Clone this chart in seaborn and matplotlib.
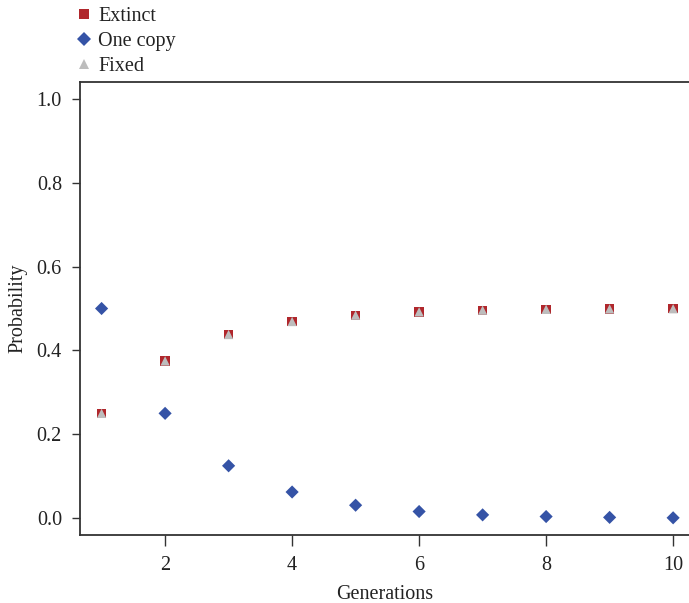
import matplotlib
matplotlib.use("Agg")
import matplotlib.pyplot as plt
import seaborn as sns
import pandas as pd

generations = [1, 2, 3, 4, 5, 6, 7, 8, 9, 10]
extinct = [0.25, 0.375, 0.438, 0.469, 0.484, 0.492, 0.496, 0.498, 0.499, 0.4995]
one_copy = [0.5, 0.25, 0.125, 0.0625, 0.031, 0.016, 0.008, 0.004, 0.002, 0.001]
fixed = [0.25, 0.375, 0.438, 0.469, 0.484, 0.492, 0.496, 0.498, 0.499, 0.4995]
series_names = ["Extinct", "One copy", "Fixed"]
y_ticks = [0.0, 0.2, 0.4, 0.6, 0.8, 1.0]
x_ticks = [2, 4, 6, 8, 10]

sns.set_style("white")
plt.rcParams['font.family'] = ['Liberation Serif', 'DejaVu Serif']

df = pd.DataFrame({
    "Generations": generations * 3,
    "Probability": extinct + one_copy + fixed,
    "Series": [series_names[0]] * 10 + [series_names[1]] * 10 + [series_names[2]] * 10,
})

colors = {"Extinct": "#B0272C", "One copy": "#3553A6", "Fixed": "#BDBDBD"}
markers = {"Extinct": "s", "One copy": "D", "Fixed": "^"}

fig = plt.figure(figsize=(6.89, 6.03), dpi=100)
ax = fig.add_axes([80/689, 1 - 535/603, 1 - 80/689, (535 - 82)/603])

sns.scatterplot(data=df, x="Generations", y="Probability", hue="Series", style="Series",
                palette=colors, markers=markers, s=45, edgecolor="none", linewidth=0,
                ax=ax, legend=True)

ax.set_xlim(0.66, 10.25)
ax.set_ylim(-0.04, 1.04)
ax.set_xticks(x_ticks)
ax.set_xticklabels([str(t) for t in x_ticks])
ax.set_yticks(y_ticks)
ax.set_yticklabels([f"{t:.1f}" for t in y_ticks])
ax.tick_params(axis="both", direction="out", length=6, width=1.0, color="#333333",
               labelsize=14.5, labelcolor="#222222", left=True, bottom=True, pad=7)
ax.tick_params(axis="x", length=8, pad=7)
for side in ["left", "bottom", "top"]:
    ax.spines[side].set_color("#333333")
    ax.spines[side].set_linewidth(1.3)
ax.spines["right"].set_visible(False)
ax.set_xlabel("Generations", fontsize=14.5, color="#222222", labelpad=7)
ax.set_ylabel("Probability", fontsize=14.5, color="#222222", labelpad=7)

handles, labels = ax.get_legend_handles_labels()
leg = ax.legend(handles, labels, loc="upper left", bbox_to_anchor=(64/689, 1 - 7/603),
                bbox_transform=fig.transFigure, frameon=False, fontsize=14.5,
                handletextpad=-0.3, labelspacing=0.28, borderaxespad=0.0,
                markerscale=1.0, borderpad=0.0)
for t in leg.get_texts():
    t.set_color("#222222")

fig.savefig("out.png", dpi=100)
